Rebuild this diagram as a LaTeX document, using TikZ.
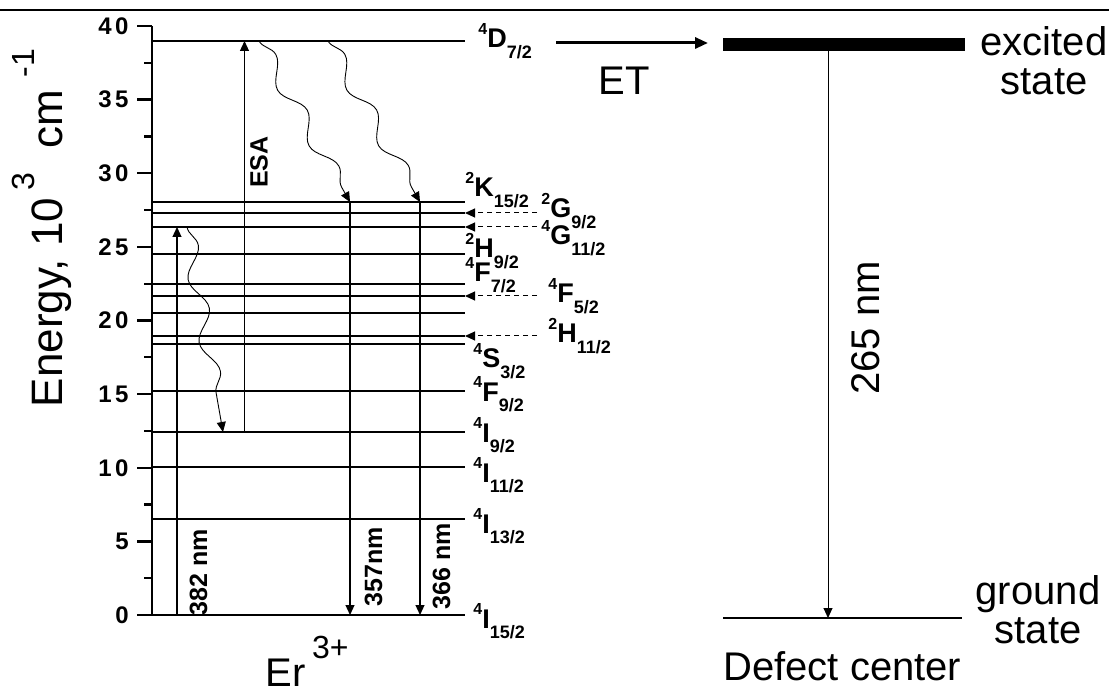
\documentclass[tikz,border=0pt]{standalone}
\usepackage{fontspec}
\setmainfont{Liberation Sans}
\usetikzlibrary{arrows.meta,decorations.pathmorphing}

% spectroscopic term: left superscript, letter, subscript
\newcommand{\term}[3]{\raisebox{0.5em}{\fontsize{8}{8}\selectfont #1}#2\raisebox{-0.38em}{\fontsize{9}{9}\selectfont #3}}

\begin{document}
\begin{tikzpicture}[x=0.5pt,y=-0.5pt,
    level/.style={line width=1.15pt},
    trans/.style={line width=0.6pt,-{Triangle[length=5pt,width=4.5pt]}},
    wavy/.style={line width=0.45pt,-{Triangle[length=5pt,width=4.5pt]},decorate,
      decoration={snake,amplitude=4pt,segment length=32pt,post length=6pt}},
    feed/.style={line width=0.5pt,dash pattern=on 2.5pt off 2pt,-{Triangle[length=5pt,width=4.5pt]}},
    termlab/.style={inner sep=0pt,anchor=base west,font=\fontsize{13.5}{13.5}\selectfont\bfseries},
    nmlab/.style={inner sep=0pt,rotate=90,font=\fontsize{12.5}{12.5}\selectfont\bfseries},
    big/.style={inner sep=0pt,font=\fontsize{20}{19.5}\selectfont},
    ticklab/.style={inner sep=0pt,anchor=east,font=\fontsize{12}{12}\selectfont\bfseries\addfontfeatures{LetterSpace=15}}]
\useasboundingbox (0,0) rectangle (1109,695);

% frame line
\coordinate (top-l) at (0,10);
\coordinate (top-r) at (1109,10);
\draw[line width=0.75pt] (top-l) -- (top-r);

% energy axis
\draw[level] (152,26) -- (152,615);
\foreach \v in {0,5,...,40}{
  \draw[level] (137,{615-14.725*\v}) -- (152,{615-14.725*\v});
  \node[ticklab] (tick\v) at (129,{615-14.725*\v}) {\v};
}
\foreach \v in {2.5,7.5,...,37.5}
  \draw[level] (144,{615-14.725*\v}) -- (152,{615-14.725*\v});
\node[big,rotate=90,anchor=base,font=\fontsize{22}{22}\selectfont] (elab) at (62,228)
  {Energy, 10\,\raisebox{0.62em}{\fontsize{16}{16}\selectfont 3}\ \ cm\ \raisebox{0.62em}{\fontsize{16}{16}\selectfont -1}};

% Er levels
\foreach \y/\n in {41/D72,202/K152,213/G92,227/G112,254/H92,284/F72,296/F52,313/F32,336/H112,344/S32,391/F92,432/I92,467/I112,519/I132,615/I152}{
  \coordinate (\n) at (152,\y);
  \draw[level] (\n) -- ++(313,0);
}
\draw[level] (137,615) -- (I152);

% transitions
\coordinate (uv) at (177,0);
\coordinate (esa) at (244.5,0);
\coordinate (d357) at (350,0);
\coordinate (d366) at (420,0);
\coordinate (nr1) at (259,0);
\coordinate (nr2) at (328,0);
\coordinate (nr3) at (187,0);
\coordinate (nr3e) at (223,0);
\draw[trans] (uv |- I152) -- (uv |- G112);
\draw[trans] (esa |- I92) -- (esa |- D72);
\draw[trans] (d357 |- K152) -- (d357 |- I152);
\draw[trans] (d366 |- K152) -- (d366 |- I152);
\draw[wavy] (nr1 |- D72) -- (d357 |- K152);
\draw[wavy] (nr2 |- D72) -- (d366 |- K152);
\draw[wavy] (nr3 |- G112) -- (nr3e |- I92);

% feeding from the defect
\coordinate (fd) at (537,0);
\coordinate (le) at (465,0);
\foreach \n in {G92,G112,F52,H112}
  \draw[feed] (fd |- \n) -- (le |- \n);

\node[nmlab] (lesa) at (259,162) {ESA};
\node[nmlab] (l382) at (198.5,572) {382 nm};
\node[nmlab] (l357) at (373.5,567) {357nm};
\node[nmlab] (l366) at (441.5,566) {366 nm};

% term labels
\node[termlab] (tD72) at (478,48) {\term{4}{D}{7/2}};
\node[termlab] (tK152) at (465,197) {\term{2}{K}{15/2}};
\node[termlab] (tG92) at (541,218) {\term{2}{G}{9/2}};
\node[termlab] (tG112) at (541,245) {\term{4}{G}{11/2}};
\node[termlab] (tH92) at (465,258) {\term{2}{H}{9/2}};
\node[termlab] (tF72) at (465,282) {\term{4}{F}{7/2}};
\node[termlab] (tF52) at (548,303) {\term{4}{F}{5/2}};
\node[termlab] (tH112) at (548,343) {\term{2}{H}{11/2}};
\node[termlab] (tS32) at (473,368) {\term{4}{S}{3/2}};
\node[termlab] (tF92) at (473,401) {\term{4}{F}{9/2}};
\node[termlab] (tI92) at (473,442) {\term{4}{I}{9/2}};
\node[termlab] (tI112) at (473,482) {\term{4}{I}{11/2}};
\node[termlab] (tI132) at (473,533) {\term{4}{I}{13/2}};
\node[termlab] (tI152) at (473,628) {\term{4}{I}{15/2}};
\node[big,anchor=base west] (er) at (265,686) {Er\,\raisebox{0.7em}{\fontsize{16}{16}\selectfont 3+}};

% defect center
\coordinate (ex-l) at (723,44.5);
\coordinate (ex-r) at (965,44.5);
\draw[line width=6.5pt] (ex-l) -- (ex-r);
\coordinate (et-s) at (556,43);
\coordinate (et-e) at (708,43);
\draw[line width=1.5pt,-{Triangle[length=6.5pt,width=5.5pt]}] (et-s) -- (et-e);
\coordinate (gr-l) at (723,618);
\coordinate (gr-r) at (962,618);
\draw[line width=0.8pt] (gr-l) -- (gr-r);
\coordinate (em-t) at (828,51);
\coordinate (em-b) at (828,618);
\draw[trans,line width=0.5pt] (em-t) -- (em-b);

\node[big] (et) at (624.5,81) {ET};
\node[big,align=center] (exc) at (1044,61) {excited\\state};
\node[big,align=center] (gnd) at (1038,610) {ground\\state};
\node[big,rotate=90] (l265) at (866,328) {265 nm};
\node[big,anchor=base west] (dc) at (723,680) {Defect center};
\end{tikzpicture}
\end{document}
